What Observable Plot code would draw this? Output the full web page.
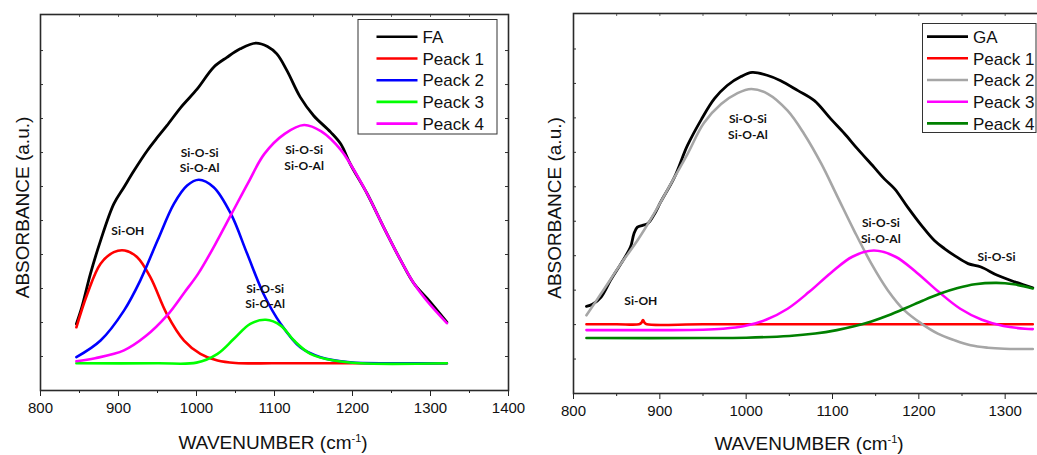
<!DOCTYPE html>
<html><head><meta charset="utf-8">
<script src="https://cdn.jsdelivr.net/npm/d3@7"></script>
<script src="https://cdn.jsdelivr.net/npm/@observablehq/plot@0.6"></script>
<style>
body{margin:0;background:#fff;}
#wrap{position:relative;width:1037px;height:455px;overflow:hidden;background:#fff;}
#left,#right{position:absolute;top:0;height:455px;}
#left{left:0;width:520px;}
#right{left:520px;width:600px;}
#left svg,#right svg{max-width:none !important;overflow:visible;}
#overlay{position:absolute;left:0;top:0;}
</style></head><body>
<div id="wrap"><div id="right"></div><div id="left"></div><svg id="overlay" width="1037" height="455"></svg></div>
<script>
// ---------- shared axis values ----------
const xMajorLeft = [800, 900, 1000, 1100, 1200, 1300, 1400];
const xMajorRight = [800, 900, 1000, 1100, 1200, 1300];
const xMinor = [850, 950, 1050, 1150, 1250, 1350];
const yTicks = [1, 2, 3, 4, 5, 6, 7, 8, 9, 10];
const xTitle = "WAVENUMBER (cm";
const xTitleSup = "-1";
const yTitle = "ABSORBANCE (a.u.)";

// ---------- left panel (FA) ----------
const leftNames = ["FA", "Peack 1", "Peack 2", "Peack 3", "Peack 4"];
const leftColors = ["#000000", "#ff0000", "#0000ff", "#00ff00", "#ff00ff"];

const faWn  = [846, 853, 864, 877, 894, 907, 920, 937, 950, 962, 980, 1001, 1022, 1039, 1056, 1076, 1091, 1103, 1116, 1133, 1150, 1172, 1185, 1197, 1219, 1240, 1262, 1279, 1296, 1321];
const faAbs = [1.96, 2.45, 3.43, 4.41, 5.49, 5.98, 6.47, 7.06, 7.45, 7.79, 8.33, 8.87, 9.51, 9.80, 10.05, 10.22, 10.12, 9.90, 9.41, 8.63, 8.09, 7.60, 7.25, 6.67, 5.78, 4.80, 3.82, 3.14, 2.70, 2.01];

const fa1Wn  = [846, 860, 877, 894, 908, 924, 941, 962, 984, 1005, 1027, 1050, 1100, 1200, 1321];
const fa1Abs = [1.86, 2.84, 3.73, 4.07, 4.12, 3.92, 3.33, 2.25, 1.47, 1.08, 0.88, 0.81, 0.80, 0.80, 0.80];

const fa2Wn  = [846, 877, 907, 928, 950, 971, 988, 1003, 1022, 1044, 1065, 1086, 1108, 1133, 1159, 1197, 1250, 1321];
const fa2Abs = [0.98, 1.47, 2.35, 3.24, 4.41, 5.49, 6.03, 6.20, 5.98, 5.20, 4.02, 2.84, 1.96, 1.27, 0.98, 0.83, 0.80, 0.80];

const fa3Wn  = [846, 950, 1000, 1027, 1048, 1069, 1089, 1108, 1125, 1146, 1176, 1210, 1321];
const fa3Abs = [0.80, 0.80, 0.82, 1.08, 1.52, 1.96, 2.08, 1.91, 1.47, 1.08, 0.88, 0.80, 0.80];

const fa4Wn  = [846, 870, 907, 935, 962, 985, 1002, 1024, 1045, 1066, 1087, 1113, 1138, 1160, 1185, 1197, 1219, 1240, 1262, 1279, 1296, 1321];
const fa4Abs = [0.86, 0.95, 1.18, 1.60, 2.20, 2.90, 3.43, 4.30, 5.20, 6.10, 6.96, 7.55, 7.81, 7.62, 7.08, 6.67, 5.78, 4.80, 3.82, 3.14, 2.62, 1.98];

const leftAnnText = ["Si-OH", "Si-O-Si\nSi-O-Al", "Si-O-Si\nSi-O-Al", "Si-O-Si\nSi-O-Al"];
const leftAnnX = [912, 1004, 1138, 1088];
const leftAnnY = [4.71, 6.80, 6.86, 2.80];

// ---------- right panel (GA) ----------
const rightNames = ["GA", "Peack 1", "Peack 2", "Peack 3", "Peack 4"];
const rightColors = ["#000000", "#ff0000", "#a6a6a6", "#ff00ff", "#008000"];

const gaWn  = [815, 822, 832, 843, 855, 866, 870, 874, 880, 886, 894, 901, 917, 932, 948, 963, 978, 994, 1007, 1025, 1040, 1060, 1079, 1098, 1114, 1129, 1148, 1160, 1172, 1187, 1203, 1218, 1230, 1241, 1257, 1272, 1291, 1311, 1332];
const gaAbs = [2.53, 2.59, 2.80, 3.29, 3.77, 4.25, 4.64, 4.83, 4.88, 4.93, 5.22, 5.56, 6.28, 7.20, 7.95, 8.55, 8.94, 9.20, 9.32, 9.23, 9.08, 8.79, 8.50, 7.97, 7.54, 7.10, 6.57, 6.23, 5.94, 5.41, 4.88, 4.44, 4.20, 4.01, 3.77, 3.67, 3.43, 3.24, 3.07];

const ga1Wn  = [815, 850, 876, 878.5, 880.5, 882.5, 885, 950, 1100, 1250, 1332];
const ga1Abs = [2.01, 2.01, 2.01, 2.05, 2.13, 2.05, 2.01, 2.01, 2.01, 2.01, 2.01];

const ga2Wn  = [815, 832, 855, 874, 894, 913, 932, 951, 971, 990, 1006, 1025, 1048, 1067, 1087, 1106, 1125, 1145, 1164, 1183, 1203, 1222, 1241, 1260, 1280, 1299, 1332];
const ga2Abs = [2.27, 2.90, 3.77, 4.44, 5.25, 6.10, 6.95, 7.85, 8.40, 8.72, 8.84, 8.70, 8.21, 7.54, 6.67, 5.70, 4.73, 3.77, 3.00, 2.42, 2.03, 1.74, 1.55, 1.40, 1.33, 1.30, 1.29];

const ga3Wn  = [815, 900, 950, 973, 998, 1023, 1048, 1073, 1098, 1123, 1148, 1173, 1198, 1223, 1248, 1273, 1298, 1323, 1332];
const ga3Abs = [1.84, 1.84, 1.85, 1.88, 1.96, 2.14, 2.46, 2.95, 3.50, 3.97, 4.15, 3.97, 3.50, 2.95, 2.46, 2.14, 1.96, 1.88, 1.87];

const ga4Wn  = [815, 950, 1000, 1050, 1080, 1105, 1125, 1145, 1165, 1185, 1205, 1225, 1245, 1265, 1290, 1310, 1332];
const ga4Abs = [1.61, 1.61, 1.62, 1.67, 1.74, 1.84, 1.95, 2.09, 2.27, 2.48, 2.70, 2.90, 3.06, 3.17, 3.21, 3.17, 3.05];

const rightAnnText = ["Si-OH", "Si-O-Si\nSi-O-Al", "Si-O-Si\nSi-O-Al", "Si-O-Si"];
const rightAnnX = [878, 1002, 1156, 1290];
const rightAnnY = [2.71, 7.77, 4.75, 3.98];

// ---------- helpers ----------
const tidy = (name, wn, ab) => wn.map((w, i) => ({series: name, wn: w, ab: ab[i]}));
const ann = (t, x, y) => t.map((s, i) => ({text: s, x: x[i], y: y[i]}));

function panel({width, height, mL, mR, mT, mB, yMax, names, colors, data, notes, xMajor}) {
  const plotW = width - mL - mR, plotH = height - mT - mB;
  const topTicks = [...xMajor, ...xMinor];
  return Plot.plot({
    width, height,
    marginLeft: mL, marginRight: mR, marginTop: mT, marginBottom: mB,
    style: {fontFamily: "'Liberation Sans', Arial, sans-serif", fontSize: "15px", background: "transparent", color: "#111", overflow: "visible", maxWidth: "none"},
    x: {domain: [800, 1400]},
    y: {domain: [0, yMax], axis: null},
    color: {domain: names, range: colors},
    marks: [
      Plot.line(data, {x: "wn", y: "ab", z: "series", stroke: "series", strokeWidth: d => d.series === names[0] ? 2.8 : 2.6, curve: "catmull-rom"}),
      Plot.text(notes, {x: "x", y: "y", text: "text", fontFamily: "Lato, 'Open Sans', sans-serif", fontWeight: "bold", fontSize: 12, lineHeight: 1.3, lineAnchor: "middle", textAnchor: "middle", fill: "#111"}),
      Plot.tickX(topTicks, {x: d => d, insetBottom: plotH - 3, stroke: "#666", strokeWidth: 1}),
      Plot.tickY(yTicks, {y: d => d, insetRight: plotW - 3, stroke: "#333", strokeWidth: 1}),
      Plot.tickY(yTicks, {y: d => d, insetLeft: plotW - 3, stroke: "#333", strokeWidth: 1}),
      Plot.axisX(xMajor, {tickSize: 6, tickPadding: 6, label: null, tickFormat: d3.format("d"), stroke: "#222"}),
      Plot.axisX(xMinor, {tickSize: 3, label: null, tickFormat: () => "", stroke: "#222"}),
      Plot.frame({stroke: "#2a2a2a", strokeWidth: 1.6})
    ]
  });
}

const leftData = [
  ...tidy("FA", faWn, faAbs),
  ...tidy("Peack 1", fa1Wn, fa1Abs),
  ...tidy("Peack 2", fa2Wn, fa2Abs),
  ...tidy("Peack 3", fa3Wn, fa3Abs),
  ...tidy("Peack 4", fa4Wn, fa4Abs)
];
const rightData = [
  ...tidy("GA", gaWn, gaAbs),
  ...tidy("Peack 1", ga1Wn, ga1Abs),
  ...tidy("Peack 2", ga2Wn, ga2Abs),
  ...tidy("Peack 3", ga3Wn, ga3Abs),
  ...tidy("Peack 4", ga4Wn, ga4Abs)
];

document.getElementById("left").append(panel({
  width: 520, height: 455, mL: 40, mR: 12, mT: 14, mB: 65, yMax: 11.06,
  names: leftNames, colors: leftColors, data: leftData,
  notes: ann(leftAnnText, leftAnnX, leftAnnY), xMajor: xMajorLeft
}));
document.getElementById("right").append(panel({
  width: 600, height: 455, mL: 53, mR: 29, mT: 13, mB: 62, yMax: 11.03,
  names: rightNames, colors: rightColors, data: rightData,
  notes: ann(rightAnnText, rightAnnX, rightAnnY), xMajor: xMajorRight
}));

// ---------- overlay: axis titles and legends ----------
const ov = d3.select("#overlay").style("font-family", "'Liberation Sans', Arial, sans-serif");

function xTitleAt(cx, base) {
  const t = ov.append("text").attr("x", cx).attr("y", base).attr("text-anchor", "middle")
    .attr("font-size", 19).attr("fill", "#111");
  t.append("tspan").text(xTitle);
  t.append("tspan").attr("dy", -7).attr("font-size", 11).text(xTitleSup);
  t.append("tspan").attr("dy", 7).text(")");
}
function yTitleAt(bx, cy) {
  ov.append("text").attr("transform", `translate(${bx},${cy}) rotate(-90)`)
    .attr("text-anchor", "middle").attr("font-size", 19).attr("fill", "#111").text(yTitle);
}
xTitleAt(273, 449);
xTitleAt(809, 450);
yTitleAt(28.5, 207.5);
yTitleAt(561, 208);

function legend(x, y, w, h, names, colors, lx, rowTop) {
  const g = ov.append("g");
  g.append("rect").attr("x", x).attr("y", y).attr("width", w).attr("height", h)
    .attr("fill", "#fff").attr("stroke", "#333").attr("stroke-width", 1);
  names.forEach((n, i) => {
    const ry = rowTop + i * 21.7;
    g.append("line").attr("x1", lx).attr("x2", lx + 41).attr("y1", ry).attr("y2", ry)
      .attr("stroke", colors[i]).attr("stroke-width", 2.6);
    g.append("text").attr("x", lx + 46).attr("y", ry + 6.2).attr("font-size", 17).attr("fill", "#111").text(n);
  });
}
legend(358, 19.5, 139, 114.5, leftNames, leftColors, 376.5, 36.8);
legend(922.5, 23.5, 113.5, 109, rightNames, rightColors, 927, 36.6);
</script>
</body></html>
